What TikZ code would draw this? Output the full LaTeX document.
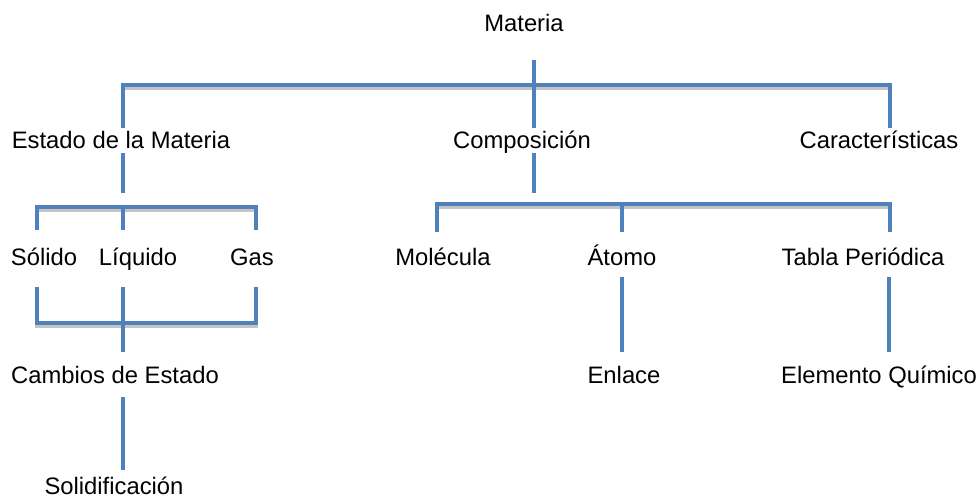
\documentclass[tikz,border=0pt]{standalone}
\usepackage{fontspec}
\setmainfont{Liberation Sans}
\definecolor{barblue}{HTML}{4F81BD}
\definecolor{shadowgray}{HTML}{C4C4C4}
\begin{document}
\begin{tikzpicture}[x=1pt,y=-1pt,
  lbl/.style={inner sep=0pt, text height=17pt, text depth=0pt, font=\fontsize{23.8}{28}\selectfont},
  bar/.style={line width=4.2pt, draw=barblue, line cap=butt, line join=miter},
  barshadow/.style={line width=4.2pt, draw=shadowgray, line cap=butt, line join=miter, xshift=1.5pt, yshift=-3.2pt}]
\useasboundingbox (0,0) rectangle (979,499);

% labels
\node[lbl] (materia)  at (524,23)  {Materia};
\node[lbl] (estado)   at (121,140) {Estado de la Materia};
\node[lbl] (comp)     at (522,140) {Composición};
\node[lbl] (carac)    at (879,140) {Características};
\node[lbl] (solido)   at (44,257)  {Sólido};
\node[lbl] (liquido)  at (138,257) {Líquido};
\node[lbl] (gas)      at (252,257) {Gas};
\node[lbl] (molecula) at (443,257) {Molécula};
\node[lbl] (atomo)    at (622,257) {Átomo};
\node[lbl] (tabla)    at (863,257) {Tabla Periódica};
\node[lbl] (cambios)  at (115,375) {Cambios de Estado};
\node[lbl] (enlace)   at (624,375) {Enlace};
\node[lbl] (elemento) at (879,375) {Elemento Químico};
\node[lbl] (solidif)  at (114,486) {Solidificación};

% connector end points
\coordinate (m0) at (534,60);
\coordinate (m1) at (534,128);
\coordinate (e0) at (123,128);
\coordinate (k0) at (890,128);
\coordinate (e1) at (123,153);
\coordinate (e2) at (123,193);
\coordinate (s0) at (37,230);
\coordinate (l0) at (123,207);
\coordinate (l1) at (123,230);
\coordinate (g0) at (256,230);
\coordinate (s1) at (37,287);
\coordinate (l2) at (123,287);
\coordinate (l3) at (123,352);
\coordinate (g1) at (256,287);
\coordinate (c0) at (123,397);
\coordinate (c1) at (123,470);
\coordinate (p0) at (534,153);
\coordinate (p1) at (534,193);
\coordinate (mo) at (437,232);
\coordinate (a0) at (622,204);
\coordinate (a1) at (622,232);
\coordinate (t0) at (890,232);
\coordinate (a2) at (622,277);
\coordinate (a3) at (622,352);
\coordinate (t1) at (889,277);
\coordinate (t2) at (889,352);

\foreach \st in {barshadow,bar}{
  % Materia
  \draw[\st] (m0) -- (m1);
  \draw[\st] (e0) -- (e0 |- 0,85) -- (k0 |- 0,85) -- (k0);
  % Estado de la Materia
  \draw[\st] (e1) -- (e2);
  \draw[\st] (s0) -- (s0 |- 0,207) -- (g0 |- 0,207) -- (g0);
  \draw[\st] (l0) -- (l1);
  % Sólido / Líquido / Gas -> Cambios de Estado
  \draw[\st] (s1) -- (s1 |- 0,323) -- (g1 |- 0,323) -- (g1);
  \draw[\st] (l2) -- (l3);
  \draw[\st] (c0) -- (c1);
  % Composición
  \draw[\st] (p0) -- (p1);
  \draw[\st] (mo) -- (mo |- 0,204) -- (t0 |- 0,204) -- (t0);
  \draw[\st] (a0) -- (a1);
  \draw[\st] (a2) -- (a3);
  \draw[\st] (t1) -- (t2);
}
\end{tikzpicture}
\end{document}
